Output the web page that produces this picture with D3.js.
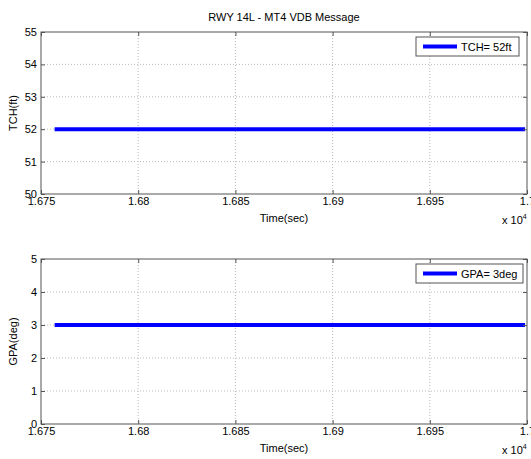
<!DOCTYPE html>
<html>
<head>
<meta charset="utf-8">
<script src="https://cdn.jsdelivr.net/npm/d3@7"></script>
<style>
  body { margin: 0; background: #fff; }
  svg text { font-family: "Liberation Sans", Arial, sans-serif; font-size: 11px; fill: #000; }
</style>
</head>
<body>
<div id="chart"></div>
<script>
// data
const timeSec = [16757, 16999];
const tchFt   = [52, 52];
const gpaDeg  = [3, 3];
const xTicks  = [16750, 16800, 16850, 16900, 16950, 17000];
const xTickLabels = ['1.675', '1.68', '1.685', '1.69', '1.695', '1.7'];

const W = 531, H = 459;
const svg = d3.select('#chart').append('svg').attr('width', W).attr('height', H);

const left = 41, right = 527;

svg.append('text').attr('x', 284).attr('y', 21).attr('text-anchor', 'middle')
  .text('RWY 14L - MT4 VDB Message');

function panel({top, bottom, yDomain, values, yLabel, legend}) {
  const x = d3.scaleLinear().domain([16750, 17000]).range([left, right]);
  const y = d3.scaleLinear().domain(yDomain).range([bottom, top]);
  const yTicks = d3.range(yDomain[0], yDomain[1] + 1);
  const g = svg.append('g');

  // grid
  g.selectAll('line.vg').data(xTicks.slice(1, -1)).join('line')
    .attr('x1', d => x(d)).attr('x2', d => x(d)).attr('y1', top).attr('y2', bottom)
    .attr('stroke', '#bbb').attr('stroke-dasharray', '1,2');
  g.selectAll('line.hg').data(yTicks.slice(1, -1)).join('line')
    .attr('x1', left).attr('x2', right).attr('y1', d => y(d)).attr('y2', d => y(d))
    .attr('stroke', '#bbb').attr('stroke-dasharray', '1,2');

  // data line
  const line = d3.line().x((d, i) => x(timeSec[i])).y(d => y(d));
  g.append('path').datum(values).attr('d', line)
    .attr('fill', 'none').attr('stroke', '#0000ff').attr('stroke-width', 4);

  // axes
  const ax = d3.axisBottom(x).tickValues(xTicks).tickFormat((d, i) => xTickLabels[i])
    .tickSizeInner(-4).tickSizeOuter(0).tickPadding(3);
  const axG = g.append('g').attr('transform', `translate(0,${bottom})`).call(ax);
  const ay = d3.axisLeft(y).tickValues(yTicks).tickFormat(d3.format('d'))
    .tickSizeInner(-4).tickSizeOuter(0).tickPadding(4);
  const ayG = g.append('g').attr('transform', `translate(${left},0)`).call(ay);
  // top/right ticks
  g.append('g').attr('transform', `translate(0,${top})`)
    .call(d3.axisTop(x).tickValues(xTicks).tickFormat('').tickSizeInner(-4).tickSizeOuter(0));
  g.append('g').attr('transform', `translate(${right},0)`)
    .call(d3.axisRight(y).tickValues(yTicks).tickFormat('').tickSizeInner(-4).tickSizeOuter(0));
  g.selectAll('.domain').remove();
  g.selectAll('.tick line').attr('stroke', '#555');
  axG.selectAll('text').attr('dy', '0.71em').style('font-size', '11px');
  ayG.selectAll('text').style('font-size', '11px');

  g.append('rect').attr('x', left).attr('y', top).attr('width', right - left).attr('height', bottom - top)
    .attr('fill', 'none').attr('stroke', '#555');

  // labels
  g.append('text').attr('x', 284).attr('y', bottom + 28).attr('text-anchor', 'middle').text('Time(sec)');
  const ex = g.append('text').attr('x', 502).attr('y', bottom + 30);
  ex.append('tspan').text('x 10');
  ex.append('tspan').attr('dy', -5).style('font-size', '7px').text('4');
  g.append('text').attr('transform', `translate(17,${(top + bottom) / 2}) rotate(-90)`)
    .attr('text-anchor', 'middle').text(yLabel);

  // legend
  const lg = g.append('g').attr('transform', `translate(416,${top + 5})`);
  lg.append('rect').attr('width', legend.w).attr('height', 19).attr('fill', '#fff').attr('stroke', '#555');
  lg.append('line').attr('x1', 7).attr('x2', 41).attr('y1', 9.5).attr('y2', 9.5)
    .attr('stroke', '#0000ff').attr('stroke-width', 4);
  lg.append('text').attr('x', 45).attr('y', 13.5).text(legend.text);
}

panel({top: 32, bottom: 194, yDomain: [50, 55], values: tchFt, yLabel: 'TCH(ft)',
       legend: {text: 'TCH= 52ft', w: 103}});
panel({top: 259, bottom: 424, yDomain: [0, 5], values: gpaDeg, yLabel: 'GPA(deg)',
       legend: {text: 'GPA= 3deg', w: 107}});
</script>
</body>
</html>
